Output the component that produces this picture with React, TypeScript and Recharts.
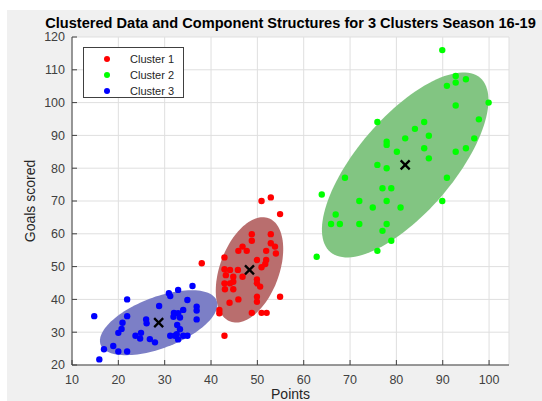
import React from "react";
import { ScatterChart, Scatter, XAxis, YAxis, CartesianGrid } from "recharts";

// points (Points, Goals scored)
const cluster1 = [
  { x: 52.9, y: 71.1 }, { x: 50.9, y: 70.0 }, { x: 54.9, y: 66.0 }, { x: 48.8, y: 59.9 },
  { x: 52.9, y: 59.9 }, { x: 48.8, y: 57.9 }, { x: 52.9, y: 57.1 }, { x: 46.8, y: 56.1 },
  { x: 53.8, y: 56.1 }, { x: 45.9, y: 54.8 }, { x: 47.7, y: 54.8 }, { x: 51.9, y: 54.8 },
  { x: 54.0, y: 54.0 }, { x: 42.9, y: 52.8 }, { x: 49.9, y: 52.0 }, { x: 51.9, y: 52.0 },
  { x: 51.7, y: 50.8 }, { x: 50.9, y: 49.8 }, { x: 42.9, y: 49.2 }, { x: 44.1, y: 49.0 },
  { x: 45.8, y: 49.0 }, { x: 38.0, y: 51.0 }, { x: 43.2, y: 47.4 }, { x: 46.8, y: 46.9 },
  { x: 44.8, y: 46.9 }, { x: 49.9, y: 46.1 }, { x: 44.8, y: 45.4 }, { x: 42.9, y: 44.9 },
  { x: 44.1, y: 44.9 }, { x: 49.9, y: 44.9 }, { x: 50.6, y: 43.9 }, { x: 43.0, y: 43.1 },
  { x: 44.8, y: 43.1 }, { x: 54.9, y: 40.8 }, { x: 49.9, y: 40.8 }, { x: 45.9, y: 40.0 },
  { x: 49.9, y: 39.3 }, { x: 44.0, y: 39.0 }, { x: 41.8, y: 36.8 }, { x: 41.8, y: 35.8 },
  { x: 48.8, y: 35.9 }, { x: 50.9, y: 35.9 }, { x: 52.0, y: 35.9 }, { x: 42.9, y: 28.9 },
];

const cluster2 = [
  { x: 89.9, y: 116.0 }, { x: 92.8, y: 108.1 }, { x: 92.8, y: 106.1 }, { x: 95.0, y: 107.1 },
  { x: 90.9, y: 105.1 }, { x: 99.9, y: 100.0 }, { x: 92.8, y: 99.1 }, { x: 97.8, y: 94.9 },
  { x: 75.9, y: 94.1 }, { x: 86.0, y: 94.1 }, { x: 84.0, y: 92.0 }, { x: 87.0, y: 89.9 },
  { x: 81.9, y: 89.1 }, { x: 96.8, y: 89.1 }, { x: 77.9, y: 88.1 }, { x: 77.9, y: 87.1 },
  { x: 80.1, y: 85.0 }, { x: 86.0, y: 86.1 }, { x: 92.8, y: 85.0 }, { x: 95.0, y: 86.1 },
  { x: 87.0, y: 83.0 }, { x: 75.9, y: 81.0 }, { x: 77.9, y: 80.0 }, { x: 68.9, y: 77.1 },
  { x: 90.9, y: 77.1 }, { x: 77.0, y: 73.9 }, { x: 78.9, y: 73.9 }, { x: 63.9, y: 72.0 },
  { x: 72.0, y: 70.0 }, { x: 77.9, y: 70.0 }, { x: 89.9, y: 70.0 }, { x: 74.9, y: 68.0 },
  { x: 80.9, y: 68.0 }, { x: 66.9, y: 65.9 }, { x: 65.9, y: 63.0 }, { x: 67.8, y: 63.0 },
  { x: 72.0, y: 63.0 }, { x: 77.9, y: 63.0 }, { x: 77.0, y: 60.9 }, { x: 78.9, y: 57.9 },
  { x: 75.9, y: 54.8 }, { x: 62.8, y: 53.0 },
];

const cluster3 = [
  { x: 36.0, y: 44.1 }, { x: 30.9, y: 41.9 }, { x: 32.9, y: 42.9 }, { x: 31.2, y: 41.0 },
  { x: 21.9, y: 40.0 }, { x: 34.9, y: 39.8 }, { x: 28.8, y: 38.0 }, { x: 36.9, y: 37.8 },
  { x: 36.9, y: 36.6 }, { x: 34.0, y: 36.8 }, { x: 32.0, y: 35.9 }, { x: 32.9, y: 35.8 },
  { x: 14.8, y: 34.9 }, { x: 21.9, y: 34.9 }, { x: 26.0, y: 33.9 }, { x: 20.9, y: 32.9 },
  { x: 33.3, y: 34.5 }, { x: 36.9, y: 33.9 }, { x: 26.1, y: 32.7 }, { x: 32.7, y: 32.2 },
  { x: 20.7, y: 31.0 }, { x: 33.3, y: 30.9 }, { x: 20.0, y: 29.8 }, { x: 24.9, y: 29.8 },
  { x: 23.7, y: 28.9 }, { x: 31.2, y: 28.9 }, { x: 32.2, y: 28.9 }, { x: 34.0, y: 28.9 },
  { x: 34.9, y: 28.9 }, { x: 24.7, y: 28.1 }, { x: 26.8, y: 27.9 }, { x: 32.9, y: 27.8 },
  { x: 27.9, y: 26.9 }, { x: 18.9, y: 25.8 }, { x: 16.9, y: 24.8 }, { x: 20.0, y: 24.1 },
  { x: 21.9, y: 24.1 }, { x: 15.9, y: 21.7 }, { x: 31.9, y: 34.7 }, { x: 32.6, y: 29.4 },
];

const centroids = [
  { x: 48.3, y: 49.0 },
  { x: 81.9, y: 81.0 },
  { x: 28.7, y: 32.9 },
];

// component ellipses: centre plus semi-axis vectors, in data units
const ellipse1 = [{ x: 48.3, y: 49.0, ax: 4.12, ay: 15.76, bx: 6.0, by: -3.11 }];
const ellipse2 = [{ x: 81.9, y: 81.0, ax: 16.17, ay: 26.55, bx: 7.84, by: -9.52 }];
const ellipse3 = [{ x: 28.7, y: 32.9, ax: 12.52, ay: 6.71, bx: 1.96, by: -7.29 }];

const clusterNames = ["Cluster 1", "Cluster 2", "Cluster 3"];
const xTicks = [10, 20, 30, 40, 50, 60, 70, 80, 90, 100];
const yTicks = [20, 30, 40, 50, 60, 70, 80, 90, 100, 110, 120];
const xDomain = [10, 104.3];
const yDomain = [20, 120];

const dotColors = ["#ff0000", "#00ff00", "#0000ff"];
const ellipseColors = ["#b96e6e", "#82c582", "#7c7fc6"];

const FONT = "'Liberation Sans', Arial, Helvetica, sans-serif";
const W = 542;
const H = 401;
const MARGIN = { top: 37, right: 33, bottom: 6, left: 32 };
const Y_AXIS_W = 40;
const X_AXIS_H = 30;
const PLOT_W = W - MARGIN.left - Y_AXIS_W - MARGIN.right;
const PLOT_H = H - MARGIN.top - MARGIN.bottom - X_AXIS_H;
const SX = PLOT_W / (xDomain[1] - xDomain[0]);
const SY = PLOT_H / (yDomain[1] - yDomain[0]);
const AXIS_COLOR = "#404040";

const dot = (color: string) => (p: any) =>
  <circle cx={p.cx} cy={p.cy} r={3.2} fill={color} />;

const ellipseShape = (color: string) => (p: any) => {
  const e = p.payload;
  const pts: string[] = [];
  for (let i = 0; i < 120; i++) {
    const t = (i / 120) * Math.PI * 2;
    const dx = e.ax * Math.cos(t) + e.bx * Math.sin(t);
    const dy = e.ay * Math.cos(t) + e.by * Math.sin(t);
    pts.push(`${p.cx + dx * SX},${p.cy - dy * SY}`);
  }
  return <polygon points={pts.join(" ")} fill={color} />;
};

const cross = (p: any) => (
  <g stroke="#000" strokeWidth={2.3}>
    <line x1={p.cx - 4.5} y1={p.cy - 4.5} x2={p.cx + 4.5} y2={p.cy + 4.5} />
    <line x1={p.cx - 4.5} y1={p.cy + 4.5} x2={p.cx + 4.5} y2={p.cy - 4.5} />
  </g>
);

const tickStyle = { fill: AXIS_COLOR, fontSize: 12.5, fontFamily: FONT };

const App = () => {
  return (
    <div style={{ position: "absolute", left: 0, top: 0, width: W, height: H, background: "#fff", overflow: "hidden", fontFamily: FONT }}>
      <div style={{ position: "absolute", left: 7, top: 10, right: 0, bottom: 0, background: "#f0f0f0" }} />
      <div style={{ position: "absolute", left: 0, top: 0 }}>
        <ScatterChart width={W} height={H} margin={MARGIN}>
          <CartesianGrid stroke="#dfdfdf" fill="#ffffff" fillOpacity={1} />
          <XAxis
            type="number"
            dataKey="x"
            domain={xDomain}
            ticks={xTicks}
            allowDataOverflow
            height={X_AXIS_H}
            tickSize={-5}
            tickMargin={15}
            stroke={AXIS_COLOR}
            tick={tickStyle}
            label={{ value: "Points", position: "bottom", offset: -6, fill: "#262626", fontSize: 14, fontFamily: FONT }}
          />
          <XAxis xAxisId="top" orientation="top" type="number" domain={xDomain} ticks={xTicks}
            allowDataOverflow height={0} tickSize={-5} tick={false} stroke={AXIS_COLOR} />
          <YAxis
            type="number"
            dataKey="y"
            domain={yDomain}
            ticks={yTicks}
            allowDataOverflow
            width={Y_AXIS_W}
            tickSize={-5}
            tickMargin={12}
            stroke={AXIS_COLOR}
            tick={tickStyle}
            label={{ value: "Goals scored", angle: -90, position: "insideLeft", offset: -2, fill: "#262626", fontSize: 14, fontFamily: FONT, style: { textAnchor: "middle" } }}
          />
          <YAxis yAxisId="right" orientation="right" type="number" domain={yDomain} ticks={yTicks}
            allowDataOverflow width={0} tickSize={-5} tick={false} stroke={AXIS_COLOR} />
          <Scatter data={ellipse1} shape={ellipseShape(ellipseColors[0])} isAnimationActive={false} />
          <Scatter data={ellipse2} shape={ellipseShape(ellipseColors[1])} isAnimationActive={false} />
          <Scatter data={ellipse3} shape={ellipseShape(ellipseColors[2])} isAnimationActive={false} />
          <Scatter name={clusterNames[0]} data={cluster1} shape={dot(dotColors[0])} isAnimationActive={false} />
          <Scatter name={clusterNames[1]} data={cluster2} shape={dot(dotColors[1])} isAnimationActive={false} />
          <Scatter name={clusterNames[2]} data={cluster3} shape={dot(dotColors[2])} isAnimationActive={false} />
          <Scatter data={centroids} shape={cross} isAnimationActive={false} />
        </ScatterChart>
      </div>
      <div style={{ position: "absolute", left: 0, width: 581, top: 16, textAlign: "center", fontWeight: "bold", fontSize: 14.6, lineHeight: "14px", color: "#000", whiteSpace: "nowrap" }}>
        Clustered Data and Component Structures for 3 Clusters Season 16-19
      </div>
      <div style={{ position: "absolute", left: 83, top: 47, width: 99, height: 49, background: "#fff", border: "1px solid #404040", fontSize: 11, color: "#262626" }}>
        {clusterNames.map((n, i) => (
          <div key={n} style={{ position: "absolute", left: 0, top: 3 + i * 16, height: 16, width: 99, lineHeight: "16px" }}>
            <span style={{ position: "absolute", left: 20, top: 5, width: 6, height: 6, borderRadius: 3, background: dotColors[i] }} />
            <span style={{ position: "absolute", left: 46 }}>{n}</span>
          </div>
        ))}
      </div>
    </div>
  );
};

export default App;
